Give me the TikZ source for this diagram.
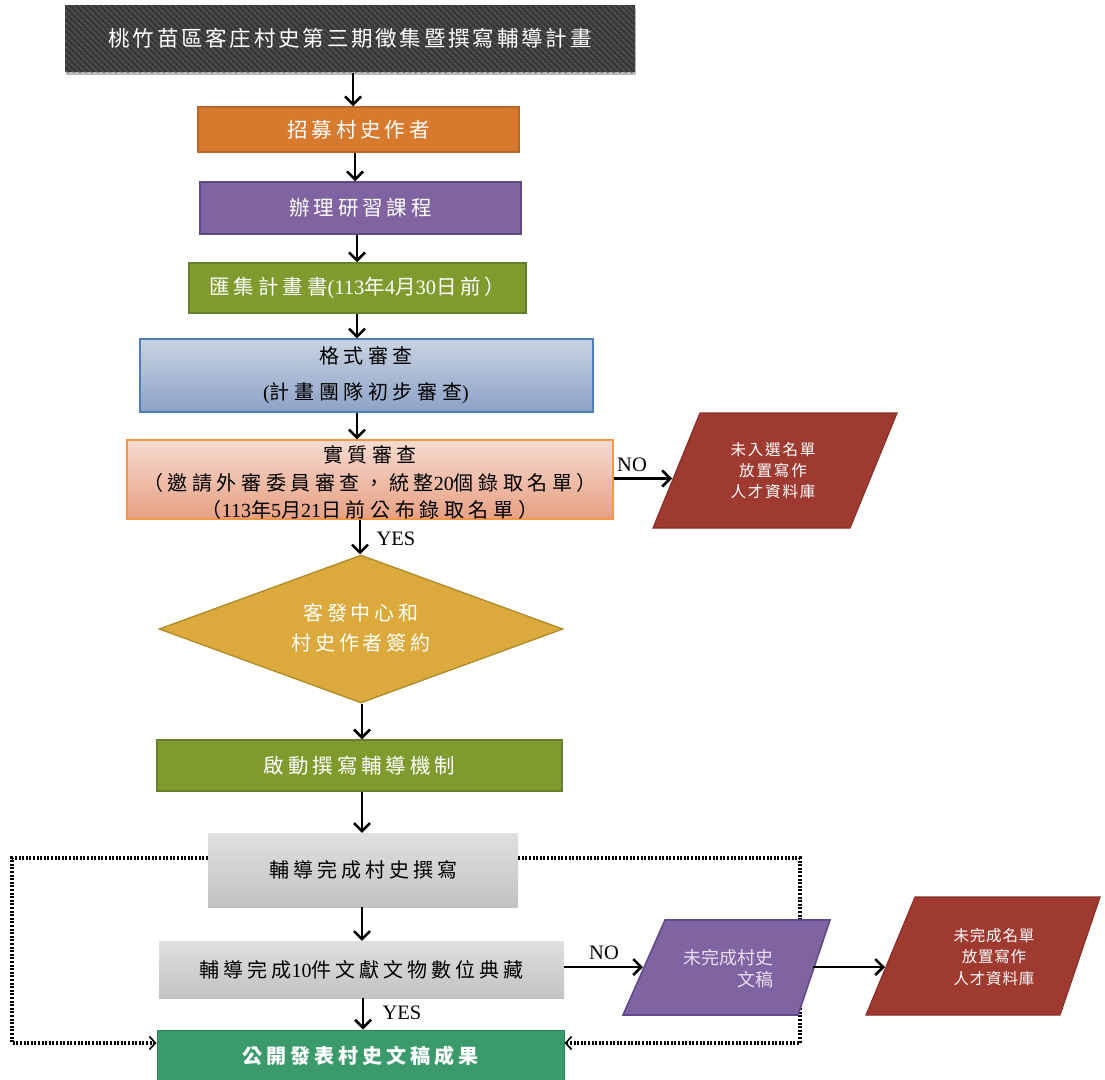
\documentclass[tikz,border=0pt]{standalone}
\usepackage{fontspec}
\setmainfont{Liberation Serif}
\newfontfamily\cjkT[LetterSpace=13]{Noto Sans CJK TC}
\newfontfamily\cjkA[LetterSpace=19]{Noto Sans CJK TC}
\newfontfamily\cjkG[LetterSpace=20]{Noto Sans CJK TC}
\newfontfamily\cjkB[LetterSpace=23]{Noto Sans CJK TC}
\newfontfamily\cjkR[LetterSpace=12]{Noto Sans CJK TC}
\newfontfamily\cjkS[LetterSpace=5]{Noto Sans CJK TC}
\newfontfamily\cjkP{Noto Sans CJK TC}
\newfontfamily\dig{Liberation Serif}
\usetikzlibrary{arrows.meta,shapes.geometric,shadows,patterns.meta}
\definecolor{titlebg}{HTML}{383838}
\definecolor{stripe}{HTML}{565656}
\definecolor{orangeb}{HTML}{D77A2E}
\definecolor{oranged}{HTML}{B9662A}
\definecolor{purpleb}{HTML}{8064A2}
\definecolor{purpled}{HTML}{5F4B8B}
\definecolor{oliveb}{HTML}{7F9B2E}
\definecolor{olived}{HTML}{67802A}
\definecolor{blueT}{HTML}{C9D3E2}
\definecolor{blueB}{HTML}{8CA2C6}
\definecolor{blueD}{HTML}{4F7FB8}
\definecolor{salT}{HTML}{F7DBD0}
\definecolor{salB}{HTML}{E6A083}
\definecolor{salD}{HTML}{F79646}
\definecolor{redb}{HTML}{9F3A30}
\definecolor{redd}{HTML}{8A2F27}
\definecolor{goldb}{HTML}{DCAA3C}
\definecolor{goldd}{HTML}{B08A2A}
\definecolor{grayT}{HTML}{E0E0E0}
\definecolor{grayB}{HTML}{C2C2C2}
\definecolor{finalg}{HTML}{3A9A6B}
\definecolor{finald}{HTML}{2F8058}
\definecolor{lav}{HTML}{E8DEF2}
\begin{document}
\begin{tikzpicture}[x=1pt,y=-1pt,
  box/.style={rectangle, inner sep=0pt, anchor=center, text=white},
  arr/.style={line width=2.5pt, -{Straight Barb[length=8pt,width=16pt]}},
  dotl/.style={line width=3.4pt, dash pattern=on 2pt off 1.6pt},
  dtip/.style={-{Straight Barb[length=6pt,width=13pt,line width=1.6pt]}},
  lbl/.style={font=\fontsize{20.5}{22}\selectfont, inner sep=0pt},
  fA/.style={font=\cjkA\fontsize{20.5}{22}\selectfont},
  fG/.style={font=\cjkG\fontsize{20}{22}\selectfont},
]
\useasboundingbox (0,0) rectangle (1105,1079);
% main column
\node[box, minimum width=570pt, minimum height=67pt,
      drop shadow={shadow xshift=1pt, shadow yshift=-3pt, opacity=.55},
      preaction={fill=titlebg},
      pattern={Lines[angle=-45,distance=4pt,line width=1.3pt]}, pattern color=stripe,
      font=\cjkT\fontsize{21.5}{22}\selectfont] (title) at (350,38.5)
      {桃竹苗區客庄村史第三期徵集暨撰寫輔導計畫};
\node[box, fill=orangeb, draw=oranged, line width=1.5pt, minimum width=321pt, minimum height=45pt, fA] (recruit) at (358.5,129.5) {招募村史作者};
\node[box, fill=purpleb, draw=purpled, line width=1.5pt, minimum width=321pt, minimum height=52pt, fA] (course) at (360.5,208) {辦理研習課程};
\node[box, fill=oliveb, draw=olived, line width=1.5pt, minimum width=337pt, minimum height=50pt, fA] (collect) at (357.5,288) {匯集計畫書{\dig(113}年{\dig 4}月{\dig 30}日前）};
\node[box, top color=blueT, bottom color=blueB, draw=blueD, line width=1.3pt, minimum width=453pt, minimum height=73pt] (format) at (366.5,375.5) {};
\node[inner sep=0pt, text=black, align=center, font=\cjkB\fontsize{20}{36}\selectfont] (formatT) at (366,375)
  {格式審查\\{\dig(}計畫團隊初步審查{\dig)}};
\node[box, top color=salT, bottom color=salB, draw=salD, line width=1.3pt, minimum width=486pt, minimum height=79pt] (subst) at (370,479.5) {};
\node[inner sep=0pt, text=black, align=center, font=\cjkB\fontsize{20}{27.5}\selectfont] (substT) at (370,482.5)
  {實質審查\\（邀請外審委員審查，統整{\dig 20}個錄取名單）\\（{\dig 113}年{\dig 5}月{\dig 21}日前公布錄取名單）};
\node[diamond, aspect=2.72, inner sep=0pt, fill=goldb, draw=goldd, line width=1.3pt, minimum width=404pt, minimum height=148pt] (sign) at (361,629) {};
\node[inner sep=0pt, text=white, align=center, font=\cjkA\fontsize{20}{30}\selectfont] (signT) at (361,628)
  {客發中心和\\村史作者簽約};
\node[box, fill=oliveb, draw=olived, line width=1.5pt, minimum width=405pt, minimum height=51pt, fA] (mech) at (359.5,765.5) {啟動撰寫輔導機制};
% dotted loops (drawn under the shapes)
\coordinate (lvl) at (0,858);
\coordinate (bot) at (0,1043);
\coordinate (lx) at (12,950);
\coordinate (rx) at (800,950);
\node[box, top color=grayT, bottom color=grayB, minimum width=310pt, minimum height=74pt, text=black, fG] (write) at (363,870) {輔導完成村史撰寫};
\node[box, top color=grayT, bottom color=grayB, minimum width=405pt, minimum height=57pt, text=black, fG] (digit) at (361.5,969.5) {輔導完成{\dig 10}件文獻文物數位典藏};
\node[box, fill=finalg, draw=finald, line width=1pt, minimum width=407pt, minimum height=51pt, font=\cjkG\bfseries\fontsize{20}{22}\selectfont] (publish) at (360.5,1055.5) {公開發表村史文稿成果};
\draw[dotl, dtip] (write.west |- lvl) -| (lx) |- (publish.west |- bot);
\draw[dotl, dtip] (write.east |- lvl) -| (rx) |- (publish.east |- bot);
% side shapes
\coordinate (r1a) at (700,413); \coordinate (r1b) at (897,413);
\coordinate (r1c) at (850,528); \coordinate (r1d) at (653,528);
\draw[fill=redb, draw=redd, line width=1.2pt] (r1a) -- (r1b) -- (r1c) -- (r1d) -- cycle;
\node[font=\cjkR\fontsize{15.5}{21}\selectfont, text=white, inner sep=0pt, align=center] (pool1) at (773,471) {未入選名單\\放置寫作\\人才資料庫};
\coordinate (r1in) at (672,478.5);
\coordinate (p2a) at (665,920); \coordinate (p2b) at (830,920);
\coordinate (p2c) at (798,1015); \coordinate (p2d) at (623,1015);
\draw[fill=purpleb, draw=purpled, line width=1.6pt] (p2a) -- (p2b) -- (p2c) -- (p2d) -- cycle;
\node[inner sep=0pt, text=lav, align=right, font=\cjkP\fontsize{18}{22}\selectfont] (unfin) at (728,969) {未完成村史\\文稿};
\coordinate (p2in) at (643,967);
\coordinate (p2out) at (813,967);
\coordinate (r2a) at (915,897); \coordinate (r2b) at (1100,897);
\coordinate (r2c) at (1060,1015); \coordinate (r2d) at (866,1015);
\draw[fill=redb, draw=redd, line width=1.2pt] (r2a) -- (r2b) -- (r2c) -- (r2d) -- cycle;
\node[font=\cjkS\fontsize{15.5}{21.5}\selectfont, text=white, inner sep=0pt, align=center] (pool2) at (994,957) {未完成名單\\放置寫作\\人才資料庫};
\coordinate (r2in) at (885,967);
% connectors
\draw[arr] (title.south -| 353,0) -- (recruit.north -| 353,0);
\draw[arr] (recruit.south -| 355,0) -- (course.north -| 355,0);
\draw[arr] (course.south -| 357,0) -- (collect.north -| 357,0);
\draw[arr] (collect.south -| 357,0) -- (format.north -| 357,0);
\draw[arr] (format.south -| 357,0) -- (subst.north -| 357,0);
\draw[arr] (subst.south -| 360,0) -- (sign.north -| 360,0);
\draw[arr] (sign.south -| 362,0) -- (mech.north -| 362,0);
\draw[arr] (mech.south -| 362,0) -- (write.north -| 362,0);
\draw[arr] (write.south -| 362,0) -- (digit.north -| 362,0);
\draw[arr] (digit.south -| 363,0) -- (publish.north -| 363,0);
\draw[arr] (subst.east |- r1in) -- (r1in);
\draw[arr] (digit.east |- p2in) -- (p2in);
\draw[arr] (p2out) -- (r2in);
% labels
\node[lbl] (no1) at (632,465) {NO};
\node[lbl] (yes1) at (396,539) {YES};
\node[lbl] (no2) at (604,953) {NO};
\node[lbl] (yes2) at (402,1013) {YES};
\end{tikzpicture}
\end{document}
